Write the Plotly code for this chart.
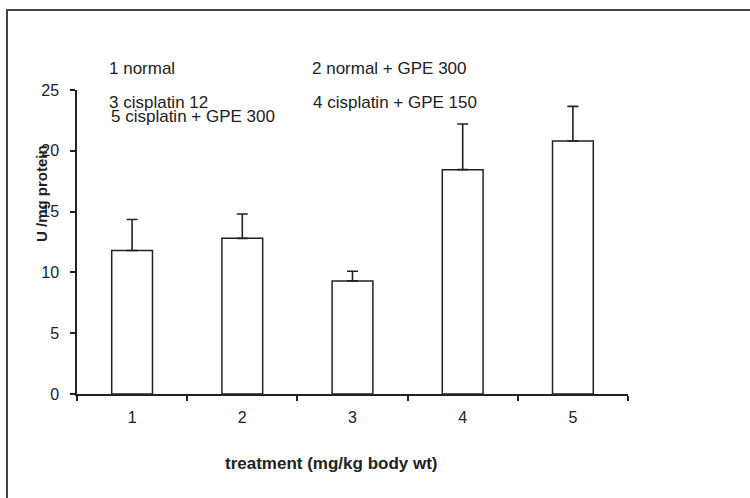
import plotly.graph_objects as go

categories = ["1", "2", "3", "4", "5"]
means = [11.8, 12.8, 9.3, 18.45, 20.8]
errors = [2.55, 2.0, 0.8, 3.75, 2.85]
y_ticks = [0, 5, 10, 15, 20, 25]
legend_lines = [
    ("1 normal", 0.0544, 1.072),
    ("2 normal + GPE 300", 0.423, 1.072),
    ("3 cisplatin 12", 0.0544, 0.9605),
    ("4 cisplatin + GPE 150", 0.4247, 0.9605),
    ("5 cisplatin + GPE 300", 0.058, 0.914),
]

FONT = "Liberation Sans, Arial, sans-serif"
INK = "#222222"

fig = go.Figure()
fig.add_trace(go.Bar(
    x=categories, y=means, width=0.37,
    marker=dict(color="white", line=dict(color=INK, width=1.5)),
    error_y=dict(type="data", symmetric=False, array=errors,
                 arrayminus=[0] * len(errors), color=INK, thickness=1.6, width=5.5),
    showlegend=False,
))

annotations = []
for text, xp, yp in legend_lines:
    annotations.append(dict(text=text, x=xp, y=yp, xref="paper", yref="paper",
                            xanchor="left", yanchor="middle", showarrow=False,
                            font=dict(family=FONT, size=17, color=INK)))
annotations.append(dict(text="<b>U /mg protein</b>", x=-0.0655, y=0.661, xref="paper", yref="paper",
                        textangle=-90, showarrow=False, xanchor="center", yanchor="middle",
                        font=dict(family=FONT, size=15, color=INK)))
annotations.append(dict(text="<b>treatment (mg/kg body wt)</b>", x=0.461, y=-0.227,
                        xref="paper", yref="paper", showarrow=False,
                        xanchor="center", yanchor="middle",
                        font=dict(family=FONT, size=17, color=INK)))

fig.update_layout(
    width=750, height=498,
    margin=dict(l=77, r=122, t=90, b=104),
    paper_bgcolor="white", plot_bgcolor="white",
    font=dict(family=FONT, size=16, color=INK),
    annotations=annotations,
    shapes=[dict(type="rect", xref="paper", yref="paper",
                 x0=(7 - 77) / 551, x1=2.0, y0=-2.0, y1=(394 - 10) / 304,
                 line=dict(color="#444444", width=2), fillcolor="rgba(0,0,0,0)", layer="below")],
)
fig.update_xaxes(type="category", range=[-0.5, 4.5], tickson="boundaries",
                 ticks="outside", ticklen=5, tickcolor=INK, tickwidth=1.5,
                 showline=True, linecolor=INK, linewidth=1.5, showgrid=False,
                 ticklabelstandoff=8,
                 tickfont=dict(family=FONT, size=16, color=INK))
fig.update_yaxes(range=[0, 25], tickvals=y_ticks, ticks="outside", ticklen=5,
                 tickcolor=INK, tickwidth=1.5, showline=True, linecolor=INK,
                 linewidth=1.5, showgrid=False, zeroline=False,
                 ticklabelstandoff=8,
                 tickfont=dict(family=FONT, size=16, color=INK))

fig.write_html("out.html", config={"displayModeBar": False},
               post_script="document.body.style.margin='0px';")
